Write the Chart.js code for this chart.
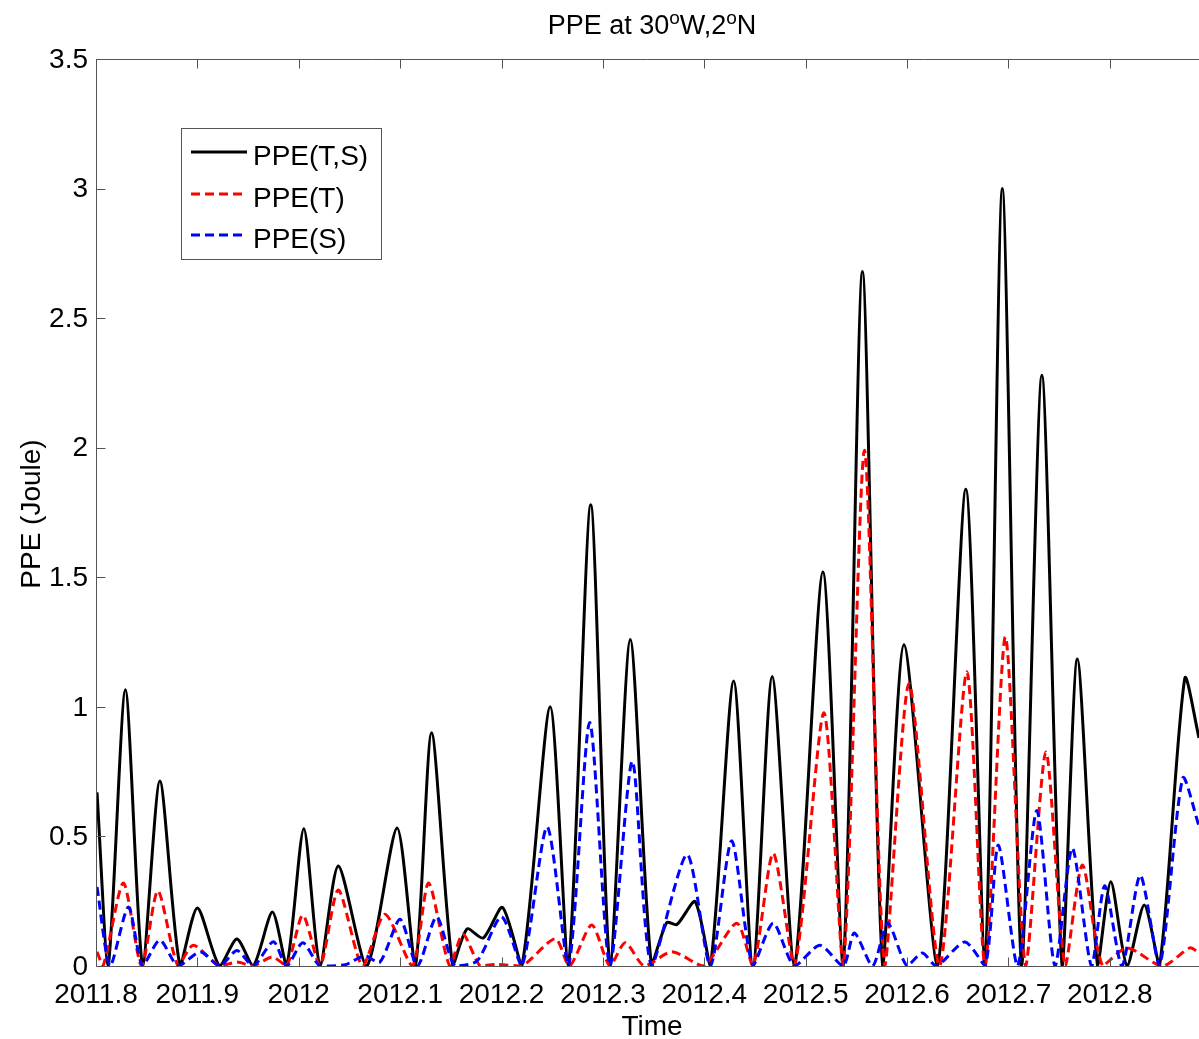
<!DOCTYPE html>
<html>
<head>
<meta charset="utf-8">
<script src="https://cdn.jsdelivr.net/npm/chart.js@4.4.1/dist/chart.umd.min.js"></script>
<style>
  html, body { margin: 0; padding: 0; background: #fff; }
  #wrap { width: 1199px; height: 1039px; }
</style>
</head>
<body>
<div id="wrap"><canvas id="ppeChart" width="1199" height="1039"></canvas></div>
<script>
// PPE(T,S) - black solid
const tsTime = [2011.801, 2011.812, 2011.829, 2011.846, 2011.863, 2011.883, 2011.900, 2011.922, 2011.939, 2011.955,
  2011.974, 2011.988, 2012.005, 2012.021, 2012.039, 2012.067, 2012.097, 2012.115, 2012.131, 2012.152,
  2012.166, 2012.182, 2012.201, 2012.220, 2012.248, 2012.266, 2012.288, 2012.307, 2012.327, 2012.348,
  2012.363, 2012.373, 2012.391, 2012.406, 2012.429, 2012.448, 2012.467, 2012.489, 2012.517, 2012.537,
  2012.556, 2012.576, 2012.597, 2012.630, 2012.658, 2012.677, 2012.694, 2012.713, 2012.733, 2012.753,
  2012.768, 2012.788, 2012.801, 2012.817, 2012.834, 2012.849, 2012.874, 2012.888];
const tsValue = [0.67, 0, 1.066, 0, 0.714, 0, 0.224, 0, 0.104, 0,
  0.208, 0, 0.53, 0, 0.386, 0, 0.533, 0, 0.90, 0,
  0.143, 0.108, 0.226, 0, 1.0, 0, 1.78, 0, 1.26, 0,
  0.168, 0.16, 0.248, 0, 1.10, 0, 1.117, 0, 1.52, 0,
  2.68, 0, 1.24, 0, 1.84, 0, 3.0, 0, 2.28, 0,
  1.185, 0, 0.325, 0, 0.235, 0, 1.11, 0.88];

// PPE(T) - red dashed
const tTime = [2011.801, 2011.807, 2011.827, 2011.845, 2011.861, 2011.881, 2011.896, 2011.922, 2011.939, 2011.955,
  2011.974, 2011.988, 2012.004, 2012.021, 2012.039, 2012.063, 2012.085, 2012.112, 2012.128, 2012.149,
  2012.162, 2012.179, 2012.195, 2012.220, 2012.253, 2012.267, 2012.289, 2012.307, 2012.322, 2012.341,
  2012.368, 2012.399, 2012.432, 2012.448, 2012.468, 2012.489, 2012.518, 2012.537, 2012.558, 2012.578,
  2012.602, 2012.632, 2012.659, 2012.677, 2012.697, 2012.717, 2012.737, 2012.756, 2012.773, 2012.793,
  2012.817, 2012.852, 2012.879, 2012.888];
const tValue = [0.055, 0, 0.32, 0, 0.29, 0, 0.08, 0, 0.015, 0,
  0.035, 0, 0.196, 0, 0.293, 0, 0.2, 0, 0.32, 0,
  0.123, 0, 0.006, 0, 0.105, 0, 0.158, 0, 0.09, 0,
  0.055, 0, 0.165, 0, 0.435, 0, 0.977, 0, 1.99, 0,
  1.09, 0, 1.135, 0, 1.27, 0, 0.826, 0, 0.39, 0,
  0.07, 0, 0.07, 0.05];

// PPE(S) - blue dashed
const sTime = [2011.801, 2011.814, 2011.832, 2011.846, 2011.863, 2011.881, 2011.903, 2011.922, 2011.939, 2011.955,
  2011.975, 2011.988, 2012.004, 2012.021, 2012.046, 2012.065, 2012.080, 2012.100, 2012.117, 2012.136,
  2012.154, 2012.176, 2012.200, 2012.220, 2012.245, 2012.266, 2012.287, 2012.307, 2012.329, 2012.348,
  2012.383, 2012.406, 2012.427, 2012.448, 2012.468, 2012.489, 2012.514, 2012.537, 2012.548, 2012.566,
  2012.581, 2012.600, 2012.615, 2012.629, 2012.657, 2012.677, 2012.690, 2012.709, 2012.728, 2012.746,
  2012.763, 2012.782, 2012.795, 2012.812, 2012.830, 2012.849, 2012.872, 2012.888];
const sValue = [0.305, 0, 0.228, 0, 0.10, 0, 0.054, 0, 0.06, 0,
  0.094, 0, 0.09, 0, 0.005, 0.04, 0.015, 0.18, 0, 0.19,
  0, 0.02, 0.19, 0, 0.537, 0, 0.94, 0, 0.79, 0,
  0.43, 0, 0.483, 0, 0.165, 0, 0.08, 0, 0.127, 0,
  0.165, 0, 0.05, 0, 0.093, 0, 0.467, 0, 0.60, 0,
  0.455, 0, 0.31, 0, 0.35, 0, 0.725, 0.54];

const xTicks = [2011.8, 2011.9, 2012.0, 2012.1, 2012.2, 2012.3, 2012.4, 2012.5, 2012.6, 2012.7, 2012.8];
const xTickLabels = ['2011.8', '2011.9', '2012', '2012.1', '2012.2', '2012.3', '2012.4', '2012.5', '2012.6', '2012.7', '2012.8'];
const yTicks = [0, 0.5, 1, 1.5, 2, 2.5, 3, 3.5];
const yTickLabels = ['0', '0.5', '1', '1.5', '2', '2.5', '3', '3.5'];

const FONT = '"Liberation Sans", Arial, Helvetica, sans-serif';

function toPoints(xs, ys) {
  return xs.map((x, i) => ({ x: x, y: ys[i] }));
}

// matlab-ish frame: box lines, inward ticks, labels, title and legend
const framePlugin = {
  id: 'frame',
  afterDraw(chart) {
    const c = chart.ctx;
    const area = chart.chartArea;
    const xs = chart.scales.x;
    const ys = chart.scales.y;
    const L = Math.round(area.left) + 0.5;
    const T = Math.round(area.top) + 0.5;
    const B = Math.round(area.bottom) + 0.5;
    const R = area.right;

    c.save();
    c.strokeStyle = '#555';
    c.lineWidth = 1;
    c.setLineDash([]);
    c.beginPath();
    c.moveTo(L, T); c.lineTo(R, T);
    c.moveTo(L, T); c.lineTo(L, B);
    c.moveTo(L, B); c.lineTo(R, B);

    xTicks.forEach(v => {
      const px = Math.round(xs.getPixelForValue(v)) + 0.5;
      c.moveTo(px, B); c.lineTo(px, B - 9);
      c.moveTo(px, T); c.lineTo(px, T + 9);
    });
    yTicks.forEach(v => {
      const py = Math.round(ys.getPixelForValue(v)) + 0.5;
      c.moveTo(L, py); c.lineTo(L + 9, py);
    });
    c.stroke();

    // tick labels
    c.fillStyle = '#000';
    c.font = '28px ' + FONT;
    c.textAlign = 'center';
    c.textBaseline = 'alphabetic';
    xTicks.forEach((v, i) => {
      c.fillText(xTickLabels[i], xs.getPixelForValue(v), 1003);
    });
    c.textAlign = 'right';
    c.textBaseline = 'middle';
    yTicks.forEach((v, i) => {
      c.fillText(yTickLabels[i], 88, ys.getPixelForValue(v) + 1);
    });

    // axis titles
    c.textAlign = 'center';
    c.textBaseline = 'alphabetic';
    c.fillText('Time', 652, 1035);
    c.save();
    c.translate(40, 514);
    c.rotate(-Math.PI / 2);
    c.fillText('PPE (Joule)', 0, 0);
    c.restore();

    // title with superscript o
    const parts = [['PPE at 30', false], ['o', true], ['W,2', false], ['o', true], ['N', false]];
    const bigFont = '27px ' + FONT;
    const supFont = '19px ' + FONT;
    let total = 0;
    parts.forEach(([txt, sup]) => {
      c.font = sup ? supFont : bigFont;
      total += c.measureText(txt).width;
    });
    let tx = 652 - total / 2;
    c.textAlign = 'left';
    parts.forEach(([txt, sup]) => {
      c.font = sup ? supFont : bigFont;
      c.fillText(txt, tx, sup ? 24 : 34);
      tx += c.measureText(txt).width;
    });

    // legend box
    c.fillStyle = '#fff';
    c.fillRect(181, 128, 200, 131);
    c.strokeStyle = '#555';
    c.strokeRect(181.5, 128.5, 200, 131);
    const rowY = [152, 194, 235];
    chart.data.datasets.forEach((ds, i) => {
      c.beginPath();
      c.strokeStyle = ds.borderColor;
      c.lineWidth = ds.borderWidth;
      c.setLineDash(ds.borderDash || []);
      c.moveTo(191, rowY[i]);
      c.lineTo(247, rowY[i]);
      c.stroke();
      c.setLineDash([]);
      c.fillStyle = '#000';
      c.font = '28px ' + FONT;
      c.textAlign = 'left';
      c.textBaseline = 'alphabetic';
      c.fillText(ds.label, 253, rowY[i] + 13);
    });
    c.restore();
  }
};

const ctx = document.getElementById('ppeChart');
const chart = new Chart(ctx, {
  type: 'line',
  data: {
    datasets: [
      {
        label: 'PPE(T,S)',
        data: toPoints(tsTime, tsValue),
        borderColor: '#000000',
        borderWidth: 3,
        order: 3
      },
      {
        label: 'PPE(T)',
        data: toPoints(tTime, tValue),
        borderColor: '#ff0000',
        borderWidth: 3,
        borderDash: [9, 5],
        order: 2
      },
      {
        label: 'PPE(S)',
        data: toPoints(sTime, sValue),
        borderColor: '#0000ff',
        borderWidth: 3,
        borderDash: [9, 5],
        order: 1
      }
    ]
  },
  options: {
    responsive: false,
    animation: false,
    devicePixelRatio: 1,
    layout: { padding: { left: 96, top: 59, right: 0, bottom: 73 } },
    elements: {
      point: { radius: 0 },
      line: { tension: 0.25, capBezierPoints: true, fill: false, borderJoinStyle: 'round' }
    },
    scales: {
      x: { type: 'linear', min: 2011.8, max: 2012.888, display: false },
      y: { type: 'linear', min: 0, max: 3.5, display: false }
    },
    plugins: {
      legend: { display: false },
      title: { display: false },
      tooltip: { enabled: false }
    }
  },
  plugins: [framePlugin]
});
</script>
</body>
</html>
